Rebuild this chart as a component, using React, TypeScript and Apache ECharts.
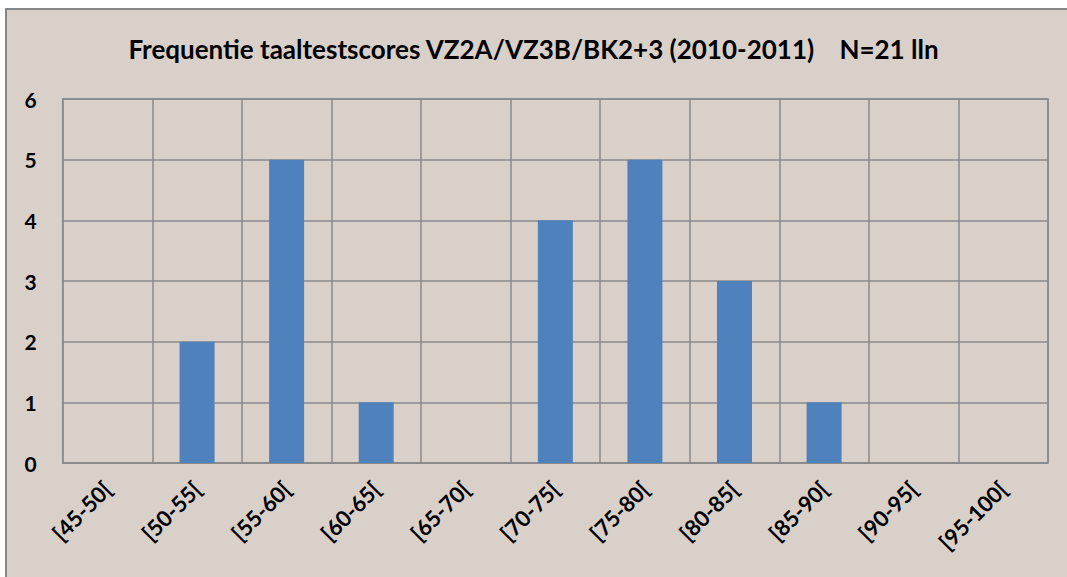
import React, { useEffect, useRef } from "react";
import * as echarts from "echarts";

const categories = ["[45-50[", "[50-55[", "[55-60[", "[60-65[", "[65-70[", "[70-75[", "[75-80[", "[80-85[", "[85-90[", "[90-95[", "[95-100["];
const counts = [0, 2, 5, 1, 0, 4, 5, 3, 1, 0, 0];
const titleText = "Frequentie taaltestscores VZ2A/VZ3B/BK2+3 (2010-2011)    N=21 lln";

const FONT = "Lato, 'Open Sans', sans-serif";
const GRID = "#8a8a8a";

export default function App() {
  const ref = useRef<HTMLDivElement>(null);
  useEffect(() => {
    const chart = echarts.init(ref.current!, null, { renderer: "svg" });
    chart.setOption({
      animation: false,
      backgroundColor: "#ffffff",
      graphic: [
        {
          type: "rect",
          z: -10,
          shape: { x: 6, y: 9, width: 1080, height: 590 },
          style: { fill: "#d9d0ca", stroke: "#878787", lineWidth: 2 },
          silent: true,
        },
      ],
      title: {
        text: titleText,
        left: "center",
        top: 31,
        textStyle: { fontFamily: FONT, fontWeight: "bold", fontSize: 26, color: "#000" },
      },
      grid: { left: 62.7, right: 19, top: 99, bottom: 114, show: true, borderColor: GRID, borderWidth: 1.5 },
      xAxis: {
        type: "category",
        data: categories,
        axisTick: { show: false },
        axisLine: { lineStyle: { color: GRID, width: 1.5 } },
        splitLine: { show: true, lineStyle: { color: GRID, width: 1.5 } },
        axisLabel: {
          rotate: 45,
          interval: 0,
          margin: 22,
          fontFamily: FONT,
          fontWeight: "bold",
          fontSize: 22,
          color: "#000",
        },
      },
      yAxis: {
        type: "value",
        min: 0,
        max: 6,
        interval: 1,
        axisLine: { show: false },
        axisTick: { show: false },
        splitLine: { show: true, lineStyle: { color: GRID, width: 1.5 } },
        axisLabel: { margin: 26, fontFamily: FONT, fontWeight: "bold", fontSize: 21, color: "#000" },
      },
      series: [
        {
          type: "bar",
          data: counts,
          barWidth: 35,
          itemStyle: { color: "#4f81bd" },
        },
      ],
    });
    return () => chart.dispose();
  }, []);
  return <div ref={ref} style={{ position: "fixed", left: 0, top: 0, width: 1067, height: 577 }} />;
}
